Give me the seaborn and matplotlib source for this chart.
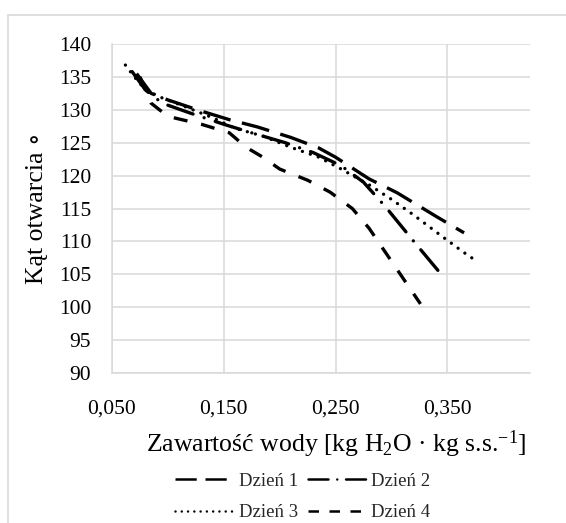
import matplotlib
matplotlib.use("Agg")
import matplotlib.pyplot as plt
import seaborn as sns
import pandas as pd
from matplotlib.lines import Line2D

# ---- data ----
x1 = [0.072, 0.085, 0.100, 0.130, 0.155, 0.180, 0.210, 0.235, 0.250, 0.280, 0.305, 0.340, 0.365]
y1 = [135.5, 132.5, 131.5, 129.8, 128.5, 127.4, 125.8, 124.2, 122.8, 119.5, 117.4, 113.8, 111.3]

x2 = [0.068, 0.080, 0.095, 0.120, 0.150, 0.175, 0.205, 0.230, 0.255, 0.275, 0.295, 0.320, 0.346]
y2 = [135.8, 133.0, 131.0, 129.5, 127.8, 126.5, 125.0, 123.5, 121.5, 119.0, 115.2, 110.0, 104.7]

x3 = [0.062, 0.070, 0.080, 0.095, 0.115, 0.140, 0.160, 0.185, 0.210, 0.235, 0.255, 0.280, 0.300, 0.320, 0.345, 0.365, 0.378]
y3 = [136.8, 135.0, 133.0, 131.8, 130.5, 128.8, 127.2, 126.0, 124.3, 122.8, 121.0, 118.6, 116.4, 114.0, 110.8, 108.3, 106.8]

x4 = [0.075, 0.085, 0.100, 0.130, 0.155, 0.170, 0.185, 0.200, 0.225, 0.245, 0.265, 0.280, 0.300, 0.326]
y4 = [135.0, 131.0, 129.0, 127.8, 126.5, 124.3, 122.8, 121.0, 119.3, 117.5, 115.0, 112.0, 107.0, 100.5]

series_names = ["Dzień 1", "Dzień 2", "Dzień 3", "Dzień 4"]
x_ticks = [0.05, 0.15, 0.25, 0.35]
x_tick_labels = ["0,050", "0,150", "0,250", "0,350"]
y_ticks = [90, 95, 100, 105, 110, 115, 120, 125, 130, 135, 140]

sns.set_theme(style="white")
plt.rcParams["font.family"] = ["Liberation Serif", "DejaVu Serif"]
plt.rcParams["mathtext.fontset"] = "custom"
plt.rcParams["mathtext.rm"] = "Liberation Serif"
plt.rcParams["mathtext.it"] = "Liberation Serif:italic"

W, H = 566, 523
fig = plt.figure(figsize=(W / 100, H / 100), dpi=100)
L, R, T, B = 112, 530, 44, 373
ax = fig.add_axes([L / W, 1 - B / H, (R - L) / W, (B - T) / H])

lw = 2.4
styles = [
    dict(dashes=(8.5, 3.5), capstyle="butt"),
    dict(dashes=(8.0, 3.5, 0.01, 3.5), capstyle="round"),
    dict(dashes=(0.01, 2.5), capstyle="round"),
    dict(dashes=(4.2, 4.2), capstyle="butt"),
]
xs = [x1, x2, x3, x4]
ys = [y1, y2, y3, y4]
handles = []
for name, xv, yv, st in zip(series_names, xs, ys, styles):
    df = pd.DataFrame({"x": xv, "y": yv})
    sns.lineplot(data=df, x="x", y="y", ax=ax, color="black", lw=lw,
                 sort=False, estimator=None)
    ln = ax.lines[-1]
    ln.set_dashes(st["dashes"])
    ln.set_dash_capstyle(st["capstyle"])
    ln.set_solid_capstyle(st["capstyle"])
    h = Line2D([], [], color="black", lw=1.8, dashes=st["dashes"],
               dash_capstyle=st["capstyle"])
    handles.append(h)

ax.set_xlim(0.05, 0.424)
ax.set_ylim(90, 140)
ax.set_xticks(x_ticks)
ax.set_xticklabels(x_tick_labels)
ax.set_yticks(y_ticks)
ax.grid(True, color="#d9d9d9", lw=1.1)
ax.set_axisbelow(True)
for s in ["top", "right"]:
    ax.spines[s].set_visible(False)
for s in ["left", "bottom"]:
    ax.spines[s].set_color("#d9d9d9")
    ax.spines[s].set_linewidth(1.1)
ax.tick_params(axis="both", length=0, labelsize=15.5, colors="black")
ax.tick_params(axis="x", pad=19)
ax.tick_params(axis="y", pad=15)

ax.set_xlabel("Zawartość wody [kg H$_2$O · kg s.s.$^{\\mathregular{-1}}$]",
              fontsize=18.5, color="black")
ax.xaxis.set_label_coords((336 - L) / (R - L), -(428 - B) / (B - T))
ax.set_ylabel("Kąt otwarcia ∘", fontsize=18.5, color="black")
ax.yaxis.set_label_coords(-(L - 48) / (R - L), 0.5)

order = [0, 2, 1, 3]
leg = fig.legend([handles[i] for i in order], [series_names[i] for i in order],
                 ncol=2, loc="center", bbox_to_anchor=(303 / W, 1 - 497 / H),
                 frameon=False, fontsize=13.5, handlelength=3.1,
                 columnspacing=0.5, handletextpad=0.3, labelspacing=0.75)

# outer chart frame (cropped)
fig.add_artist(Line2D([8 / W, 8 / W], [0, 1 - 15 / H], transform=fig.transFigure,
                      color="#d9d9d9", lw=1.2))
fig.add_artist(Line2D([8 / W, 1], [1 - 15 / H, 1 - 15 / H], transform=fig.transFigure,
                      color="#d9d9d9", lw=1.2))

fig.savefig("out.png", dpi=100)
